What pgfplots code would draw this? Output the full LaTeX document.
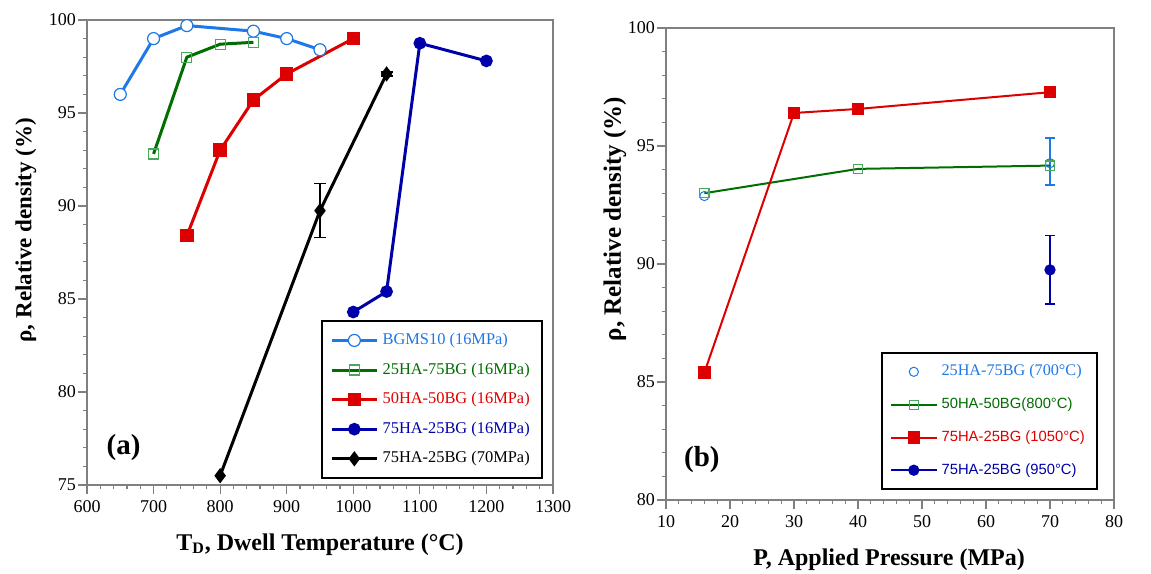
\documentclass[border=0pt]{standalone}
\usepackage{fontspec}
\setmainfont{Liberation Serif}
\setsansfont{Liberation Sans}
\usepackage{pgfplots}
\pgfplotsset{compat=1.18}

\definecolor{lblue}{RGB}{30,120,230}
\definecolor{dgreen}{RGB}{0,110,0}
\definecolor{mgreen}{RGB}{70,170,90}
\definecolor{dred}{RGB}{220,0,0}
\definecolor{dblue}{RGB}{0,0,170}

\pgfplotsset{
  panel/.style={
    scale only axis,
    axis line style={gray,line width=0.8pt},
    tick style={gray,line width=0.6pt},
    tick align=outside,
    xtick pos=left, ytick pos=left,
    major tick length=4.3pt, minor tick length=2.2pt,
    minor x tick num=4, minor y tick num=4,
    tick label style={font=\fontsize{9}{10}\selectfont},
    yticklabel style={xshift=2.3pt},
    label style={font=\fontsize{12}{14}\selectfont\bfseries},
    /pgf/number format/1000 sep={},
    /pgf/number format/assume math mode=true,
    scaled ticks=false,
    legend cell align=left,
    legend style={draw=black,line width=1pt,fill=white,
      font=\fontsize{8.2}{9.5}\selectfont,
      row sep=3.6pt, inner xsep=4pt, inner ysep=4pt},
    legend image code/.code={
      \draw[mark repeat=2,mark phase=2,##1] plot coordinates {(0cm,0cm) (0.4cm,0cm) (0.8cm,0cm)};},
  },
}

\begin{document}
\begin{tikzpicture}
% (a) dwell temperature
\begin{axis}[panel,
  at={(43.5pt,44pt)}, anchor=south west,
  width=233pt, height=232.5pt,
  xmin=600, xmax=1300, ymin=75, ymax=100,
  xtick={600,700,...,1300}, ytick={75,80,...,100},
  xlabel={T\textsubscript{D}, Dwell Temperature (°C)},
  ylabel={ρ, Relative density (\%)},
  xlabel style={at={(axis description cs:0.5,-0.128)},anchor=center},
  ylabel style={at={(axis description cs:-0.131,0.548)},anchor=center,font=\fontsize{11.5}{13}\selectfont\bfseries},
  legend style={at={(0.978,0.013)},anchor=south east},
]
\addplot[lblue,line width=1.5pt,mark=*,mark size=3pt,mark options={fill=white,line width=0.6pt}]
  coordinates {(650,96.0)(700,99.0)(750,99.7)(850,99.4)(900,99.0)(950,98.4)};
\addlegendentry{\textcolor{lblue}{BGMS10 (16MPa)}}
\addplot[dgreen,line width=1.5pt,mark=square,mark size=2.5pt,mark options={mgreen,line width=0.6pt}]
  coordinates {(700,92.8)(750,98.0)(800,98.7)(850,98.8)};
\addlegendentry{\textcolor{dgreen}{25HA-75BG (16MPa)}}
\addplot[dred,line width=1.5pt,mark=square*,mark size=2.6pt]
  coordinates {(750,88.4)(800,93.0)(850,95.7)(900,97.1)(1000,99.0)};
\addlegendentry{\textcolor{dred}{50HA-50BG (16MPa)}}
\addplot[dblue,line width=1.5pt,mark=*,mark size=2.4pt]
  coordinates {(1000,84.3)(1050,85.4)(1100,98.75)(1200,97.8)};
\addlegendentry{\textcolor{dblue}{75HA-25BG (16MPa)}}
\addplot[black,line width=1.5pt,mark=diamond*,mark size=2.6pt]
  coordinates {(800,75.5)(950,89.75)(1050,97.1)};
\addlegendentry{\textcolor{black}{75HA-25BG (70MPa)}}
\addplot[forget plot,draw=none,mark=none,
  error bars/.cd,y dir=both,y explicit,
  error bar style={black,line width=0.8pt},
  error mark options={black,rotate=90,mark size=3pt,line width=0.8pt}]
  coordinates {(950,89.75) +- (0,1.45) (1050,97.1) +- (0,0.12)};
\node[font=\fontsize{14.5}{16}\selectfont\bfseries] at (axis cs:655,77) {(a)};
\end{axis}

% (b) applied pressure
\begin{axis}[panel,
  at={(333pt,36.5pt)}, anchor=south west,
  width=224pt, height=236pt,
  xmin=10, xmax=80, ymin=80, ymax=100,
  xtick={10,20,...,80}, ytick={80,85,...,100},
  xlabel={P, Applied Pressure (MPa)},
  ylabel={ρ, Relative density (\%)},
  xlabel style={at={(axis description cs:0.498,-0.126)},anchor=center},
  ylabel style={at={(axis description cs:-0.114,0.595)},anchor=center,font=\fontsize{12.5}{14}\selectfont\bfseries},
  legend style={at={(0.964,0.021)},anchor=south east,row sep=5.5pt,
    font=\fontsize{7.4}{9}\selectfont\sffamily},
]
\addplot[lblue,only marks,mark=o,mark size=2.3pt,mark options={line width=0.5pt}]
  coordinates {(16,92.88)(70,94.27)};
\addlegendentry{\textcolor{lblue}{\rmfamily\fontsize{8.1}{9}\selectfont 25HA-75BG (700°C)}}
\addplot[forget plot,draw=none,mark=none,
  error bars/.cd,y dir=both,y explicit,
  error bar style={lblue,line width=0.8pt},
  error mark options={lblue,rotate=90,mark size=2.5pt,line width=0.8pt}]
  coordinates {(70,94.34) +- (0,1.0)};
\addplot[dgreen,line width=1pt,mark=square,mark size=2.3pt,mark options={mgreen,line width=0.6pt}]
  coordinates {(16,93.0)(40,94.03)(70,94.17)};
\addlegendentry{\textcolor{dgreen}{50HA-50BG(800°C)}}
\addplot[dred,line width=1pt,mark=square*,mark size=2.6pt]
  coordinates {(16,85.4)(30,96.4)(40,96.57)(70,97.28)};
\addlegendentry{\textcolor{dred}{75HA-25BG (1050°C)}}
\addplot[dblue,line width=1pt,mark=*,mark size=2.3pt,
  error bars/.cd,y dir=both,y explicit,
  error bar style={dblue,line width=0.8pt},
  error mark options={dblue,rotate=90,mark size=2.5pt,line width=0.8pt}]
  coordinates {(70,89.75) +- (0,1.45)};
\addlegendentry{\textcolor{dblue}{75HA-25BG (950°C)}}
\node[font=\fontsize{14.5}{16}\selectfont\bfseries] at (axis cs:15.6,81.7) {(b)};
\end{axis}
\pgfresetboundingbox
\path (0,0) rectangle (575.5pt,286.5pt);
\end{tikzpicture}
\end{document}
